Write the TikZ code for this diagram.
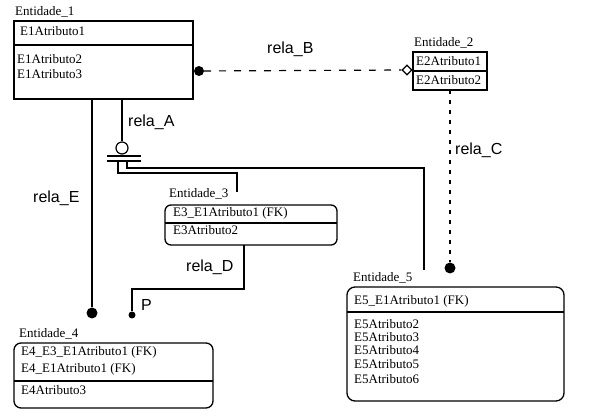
\documentclass[tikz,border=0pt]{standalone}
\usepackage{fontspec}
\setmainfont{Liberation Serif}
\newfontfamily\relfont{Liberation Sans}
\usetikzlibrary{shapes.geometric}

\tikzset{
  entbox/.style={draw,inner sep=0pt,outer sep=0pt,anchor=north west,line width=1.3pt},
  enttxt/.style={anchor=base west,inner sep=0pt,font=\fontsize{13}{15}\selectfont},
  reltxt/.style={anchor=base west,inner sep=0pt,font=\relfont\fontsize{16}{18}\selectfont},
  relline/.style={line width=1.2pt},
  reldash/.style={line width=1.2pt,dash pattern=on 7pt off 8pt},
  blob/.style={circle,fill,inner sep=0pt,outer sep=0pt,minimum size=#1},
}

\begin{document}
\begin{tikzpicture}[x=1pt,y=-1pt]
  \useasboundingbox (0,0) rectangle (592,419);
  % entities
  \node[entbox,line width=1.9pt,minimum width=179pt,minimum height=78pt] (e1) at (14,21) {};
  \node[entbox,line width=1.5pt,minimum width=74pt,minimum height=38pt] (e2) at (413,52) {};
  \node[entbox,rounded corners=6pt,minimum width=172pt,minimum height=40pt] (e3) at (165,205) {};
  \node[entbox,rounded corners=7pt,minimum width=199pt,minimum height=65pt] (e4) at (14,343) {};
  \node[entbox,rounded corners=8pt,minimum width=217pt,minimum height=114pt] (e5) at (347,287) {};
  \foreach \e/\y in {e1/45,e2/71,e3/223,e4/381,e5/312}
    \draw[relline] (\e.west |- 0,\y) -- (\e.east |- 0,\y);
  \foreach \x/\y/\txt [count=\i] in {15/16/Entidade\_1,414/47/Entidade\_2,169/198/Entidade\_3,19/338/Entidade\_4,353/282/Entidade\_5}
    \node[enttxt] (ttl\i) at (\x,\y) {\txt};
  \foreach \x/\y/\txt [count=\i] in {20/36/E1Atributo1,17/64/E1Atributo2,17/79/E1Atributo3,
      416/66/E2Atributo1,416/85/E2Atributo2,
      173/217/E3\_E1Atributo1 (FK),173/235/E3Atributo2,
      21/356/E4\_E3\_E1Atributo1 (FK),21/373/E4\_E1Atributo1 (FK),21/395/E4Atributo3,
      354/305/E5\_E1Atributo1 (FK),354/329/E5Atributo2,354/342/E5Atributo3,
      354/355/E5Atributo4,354/369/E5Atributo5,354/384/E5Atributo6}
    \node[enttxt] (att\i) at (\x,\y) {\txt};

  % rela_A
  \node[circle,draw,relline,inner sep=0pt,minimum size=12pt] (ringA) at (122,148) {};
  \draw[relline] (e1.south -| ringA) -- (ringA);
  \draw[relline] (107,156) -- (141,156) (107,161) -- (141,161);
  \coordinate (a3) at (118,161);
  \coordinate (a5) at (127,161);
  \coordinate (endA3) at (237,192);
  \coordinate (endA5) at (424,270);
  \draw[relline] (a3) -- (a3 |- 0,173) -| (endA3);
  \draw[relline] (a5) -- (a5 |- 0,168) -| (endA5);

  % rela_B
  \node[blob=10pt] (cB) at (199,71) {};
  \node[diamond,draw,relline,fill=white,inner sep=0pt,minimum size=10pt] (dB) at (407,70) {};
  \draw[reldash] (cB) -- (dB);

  % rela_C
  \node[blob=11pt] (cC) at (450,268) {};
  \draw[reldash,dash pattern=on 4pt off 6pt] (e2.south -| cC) -- (cC);

  % rela_D
  \node[blob=7pt] (cD) at (132,315) {};
  \coordinate (kneeD) at (244,289);
  \draw[relline] (e3.south -| kneeD) -- (kneeD) -| (cD);

  % rela_E
  \node[blob=11pt] (cE) at (92,313) {};
  \draw[relline] (e1.south -| cE) -- (cE);

  \foreach \x/\y/\txt [count=\i] in {128/127/rela\_A,267/54/rela\_B,455/155/rela\_C,186/272/rela\_D,33/203/rela\_E,141/311/P}
    \node[reltxt] (lbl\i) at (\x,\y) {\txt};
\end{tikzpicture}
\end{document}
